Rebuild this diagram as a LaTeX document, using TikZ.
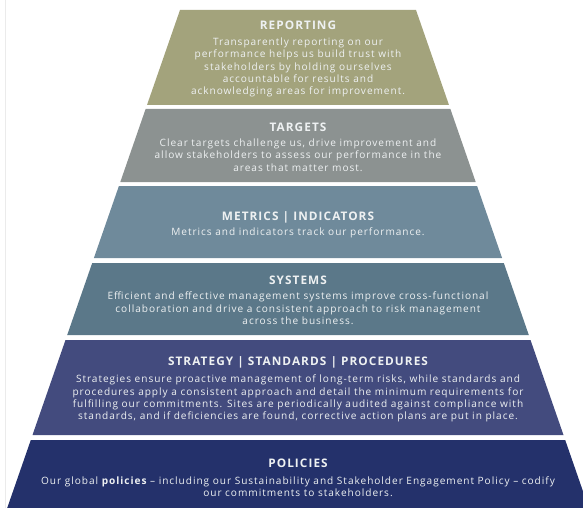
\documentclass[tikz,border=0pt]{standalone}
\usepackage{fontspec}
\setmainfont{Open Sans}
\newfontfamily\headfont{Open Sans}[LetterSpace=9]
\newfontfamily\bodyfont{Open Sans}[LetterSpace=9.5]
\usepackage{xcolor}
\definecolor{olive}{HTML}{A3A37C}
\definecolor{stone}{HTML}{8C9291}
\definecolor{steel}{HTML}{6F8A9B}
\definecolor{slate}{HTML}{5B7889}
\definecolor{indigo}{HTML}{434B7E}
\definecolor{navy}{HTML}{24316B}
\definecolor{paper}{HTML}{EEF1F2}
\usepackage{tikz}
\tikzset{
    layer/.style = {
      draw = none,
    },
    heading/.style = {
      text = paper,
      inner sep = 0pt,
      font = \headfont\fontsize{11.8}{14}\selectfont\bfseries,
      align = center,
    },
    body/.style = {
      text = paper,
      inner sep = 0pt,
      font = \bodyfont\fontsize{10.1}{12.3}\selectfont,
      align = center,
    },
}

\begin{document}
\begin{tikzpicture}[x=1pt, y=-1pt]
	    \useasboundingbox (0,0) rectangle (583,508);
	    \clip (0,0) rectangle (583,508);
	    \draw[black!8] (5.5,0) -- (5.5,508);

	    \fill[layer, olive]  (180,10) -- (416,10) -- (449,105) -- (147,105) -- cycle;
	    \fill[layer, stone]  (145.6,109) -- (450.4,109) -- (475.7,182) -- (120.3,182) -- cycle;
	    \fill[layer, steel]  (118.9,186) -- (477.1,186) -- (502.1,258) -- (93.9,258) -- cycle;
	    \fill[layer, slate]  (92.2,263) -- (503.8,263) -- (528.8,335) -- (67.2,335) -- cycle;
	    \fill[layer, indigo] (65.5,340) -- (530.5,340) -- (563.5,435) -- (32.5,435) -- cycle;
	    \fill[layer, navy]   (30.8,440) -- (565.2,440) -- (588.8,508) -- (7.2,508) -- cycle;

	    \node[heading] (REPORTING) at (298, 25) {REPORTING};
	    \node[body] (REPORTINGTXT) at (298, 67.5) {Transparently reporting on our\\performance helps us build trust with\\stakeholders by holding ourselves\\accountable for results and\\acknowledging areas for improvement.};

	    \node[heading] (TARGETS) at (298, 127) {TARGETS};
	    \node[body] (TARGETSTXT) at (298, 155) {Clear targets challenge us, drive improvement and\\allow stakeholders to assess our performance in the\\areas that matter most.};

	    \node[heading] (METRICS) at (298, 217) {METRICS | INDICATORS};
	    \node[body] (METRICSTXT) at (298, 233) {Metrics and indicators track our performance.};

	    \node[heading] (SYSTEMS) at (298, 280) {SYSTEMS};
	    \node[body] (SYSTEMSTXT) at (298, 308.5) {Efficient and effective management systems improve cross-functional\\collaboration and drive a consistent approach to risk management\\across the business.};

	    \node[heading] (STRATEGY) at (298, 362) {STRATEGY | STANDARDS | PROCEDURES};
	    \node[body] (STRATEGYTXT) at (298, 398.5) {Strategies ensure proactive management of long-term risks, while standards and\\procedures apply a consistent approach and detail the minimum requirements for\\fulfilling our commitments. Sites are periodically audited against compliance with\\standards, and if deficiencies are found, corrective action plans are put in place.};

	    \node[heading] (POLICIES) at (298, 463) {POLICIES};
	    \node[body] (POLICIESTXT) at (298, 486.5) {Our global {\bfseries policies} – including our Sustainability and Stakeholder Engagement Policy – codify\\our commitments to stakeholders.};
\end{tikzpicture}
\end{document}
